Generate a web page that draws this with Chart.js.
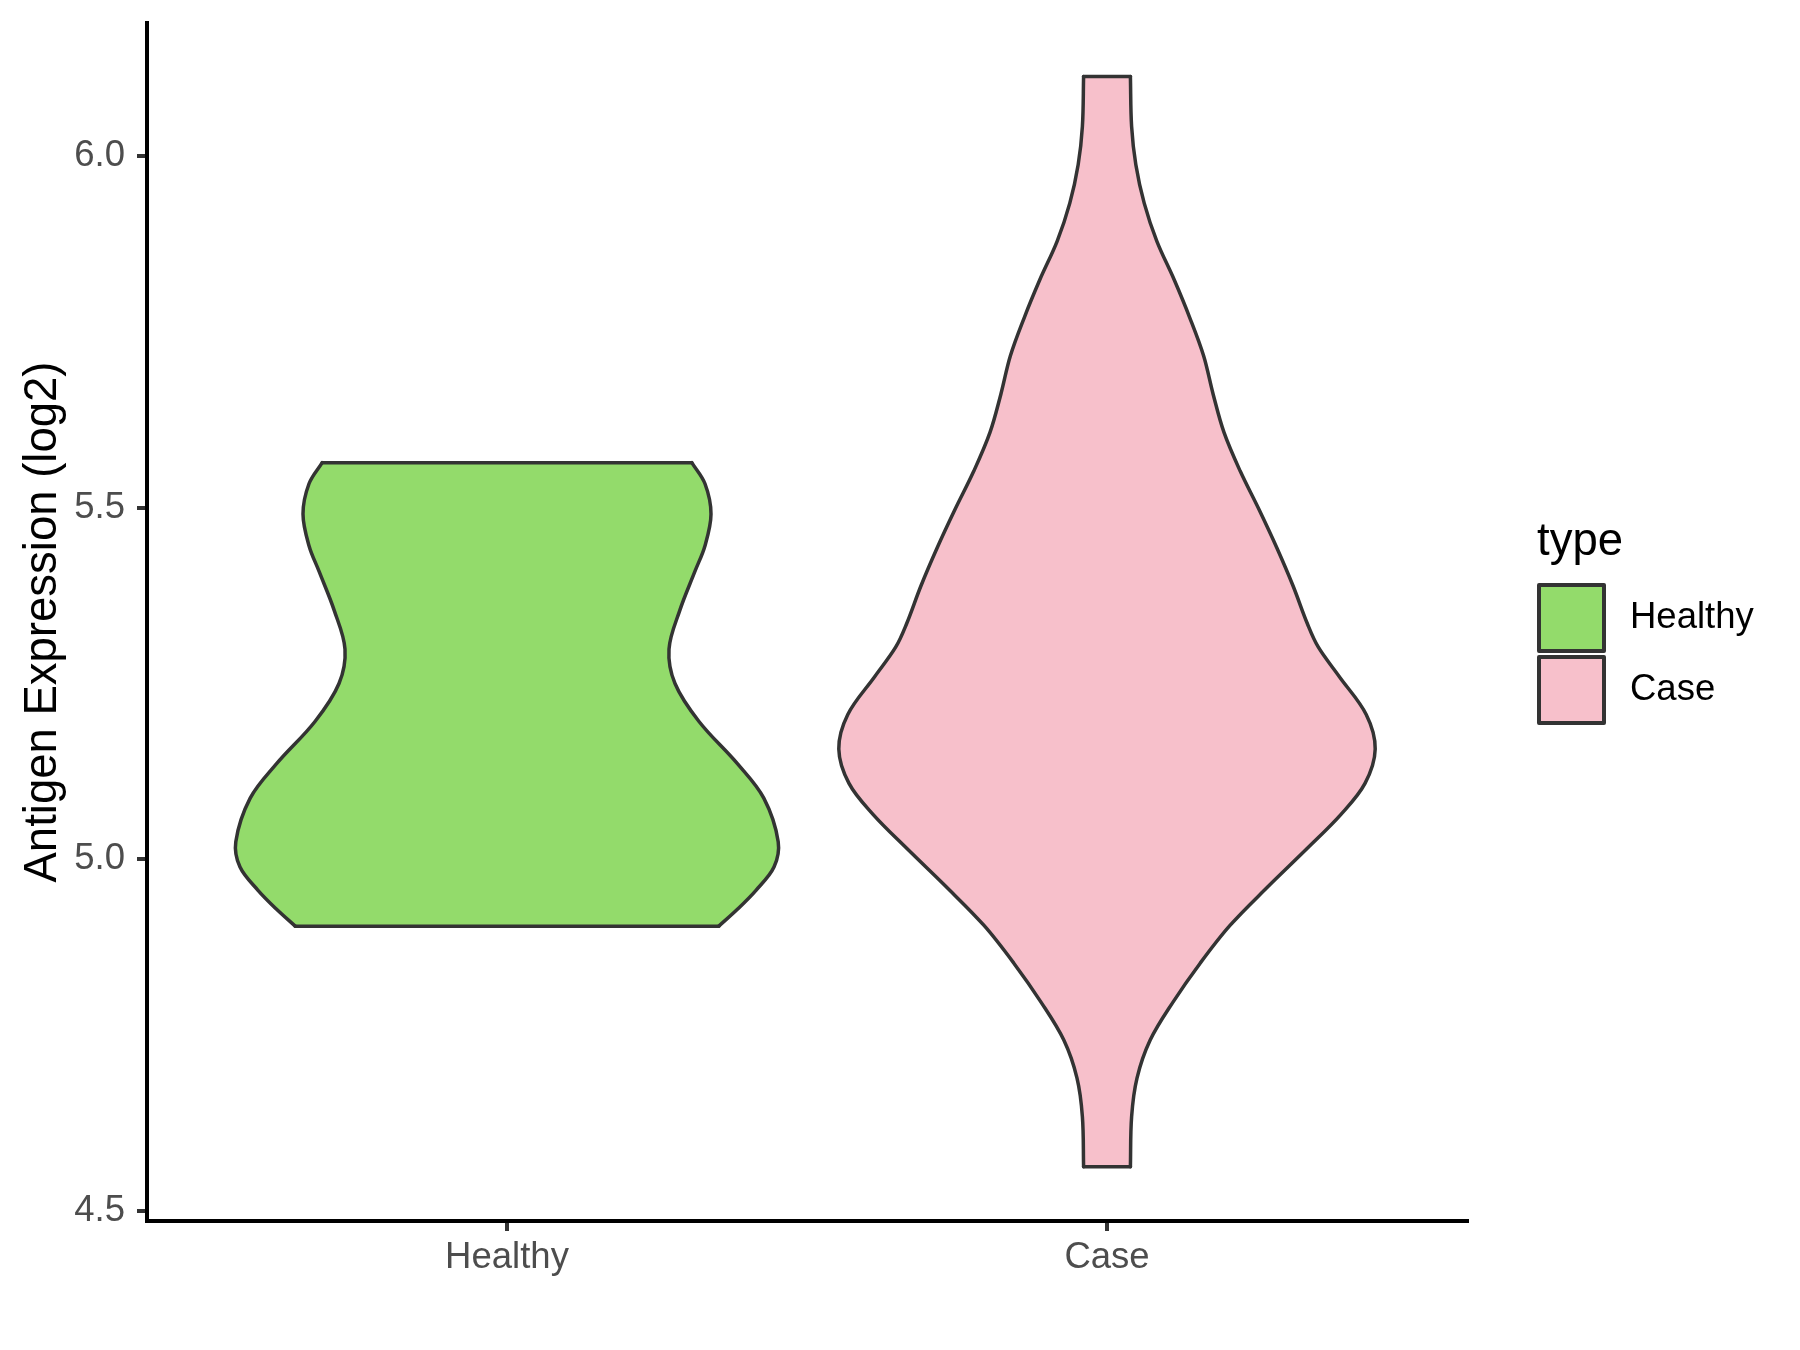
<!DOCTYPE html>
<html>
<head>
<meta charset="utf-8">
<script src="https://cdn.jsdelivr.net/npm/chart.js@4.4.1/dist/chart.umd.min.js"></script>
<style>
  html, body { margin: 0; padding: 0; background: #ffffff; }
  #wrap { width: 1800px; height: 1350px; position: relative; }
</style>
</head>
<body>
<div id="wrap"><canvas id="violinChart"></canvas></div>
<script>
// ---- data ----
const categories = ['Healthy', 'Case'];
const yTicks = [4.5, 5.0, 5.5, 6.0];

// Healthy violin: expression value and half width (in category units)
const healthyY = [4.905, 4.929, 4.956, 4.989, 5.025, 5.087, 5.136, 5.196, 5.250, 5.299, 5.354, 5.409, 5.446, 5.491, 5.534, 5.564];
const healthyHalfWidth = [0.353, 0.384, 0.415, 0.445, 0.452, 0.428, 0.384, 0.320, 0.280, 0.270, 0.288, 0.313, 0.330, 0.340, 0.330, 0.308];

// Case violin
const caseY = [4.563, 4.634, 4.689, 4.743, 4.797, 4.852, 4.906, 4.961, 5.015, 5.064, 5.108, 5.157, 5.206, 5.260, 5.302, 5.335, 5.389, 5.443, 5.498, 5.552, 5.607, 5.661, 5.716, 5.770, 5.824, 5.879, 5.933, 5.988, 6.042, 6.113];
const caseHalfWidth = [0.039, 0.041, 0.050, 0.072, 0.110, 0.155, 0.205, 0.268, 0.333, 0.390, 0.430, 0.447, 0.432, 0.387, 0.352, 0.334, 0.310, 0.283, 0.253, 0.222, 0.195, 0.177, 0.161, 0.138, 0.112, 0.083, 0.062, 0.048, 0.041, 0.039];

const fillColors = ['#93DB6B', '#F7C0CB'];
const outline = '#333333';
const fontFamily = '"Liberation Sans", Arial, sans-serif';

// build the datasets for one violin: two caps, left side, right side (filled to left side)
function violinSets(center, ys, ws, color, baseIndex) {
    const last = ys.length - 1;
    const line = {
        borderColor: outline,
        borderWidth: 3.5,
        borderCapStyle: 'round',
        borderJoinStyle: 'round',
        pointRadius: 0,
        pointHoverRadius: 0,
        fill: false
    };
    return [
        Object.assign({}, line, {
            label: categories[center - 1] + ' bottom',
            data: [{x: center - ws[0], y: ys[0]}, {x: center + ws[0], y: ys[0]}],
            tension: 0
        }),
        Object.assign({}, line, {
            label: categories[center - 1] + ' top',
            data: [{x: center - ws[last], y: ys[last]}, {x: center + ws[last], y: ys[last]}],
            tension: 0
        }),
        Object.assign({}, line, {
            label: categories[center - 1] + ' left',
            data: ys.map((y, i) => ({x: center - ws[i], y: y})),
            tension: 0.35
        }),
        Object.assign({}, line, {
            label: categories[center - 1],
            data: ys.map((y, i) => ({x: center + ws[i], y: y})),
            tension: 0.35,
            backgroundColor: color,
            fill: baseIndex + 2
        })
    ];
}

const datasets = [].concat(
    violinSets(1, healthyY, healthyHalfWidth, fillColors[0], 0),
    violinSets(2, caseY, caseHalfWidth, fillColors[1], 4)
);

// ================= legend on the right =================
const typeLegend = {
    id: 'typeLegend',
    afterDraw(chart) {
        const ctx = chart.ctx;
        const x0 = chart.chartArea.right + 72;
        ctx.save();
        ctx.fillStyle = '#000000';
        ctx.textBaseline = 'alphabetic';
        ctx.textAlign = 'left';
        ctx.font = '45.5px ' + fontFamily;
        ctx.fillText('type', x0 - 2, 555);

        ctx.font = '36.5px ' + fontFamily;
        ctx.textBaseline = 'middle';
        categories.forEach((cat, i) => {
            const top = 585 + i * 72;
            ctx.fillStyle = fillColors[i];
            ctx.fillRect(x0, top, 65, 66);
            ctx.strokeStyle = outline;
            ctx.lineWidth = 4;
            ctx.lineJoin = 'round';
            ctx.strokeRect(x0, top, 65, 66);
            ctx.fillStyle = '#000000';
            ctx.fillText(cat, x0 + 91, top + 33);
        });
        ctx.restore();
    }
};

const ctx = document.getElementById('violinChart').getContext('2d');
new Chart(ctx, {
    type: 'line',
    data: { datasets: datasets },
    options: {
        indexAxis: 'y',
        responsive: true,
        maintainAspectRatio: false,
        animation: false,
        events: [],
        layout: { padding: { left: 16, top: 23, right: 333, bottom: 0 } },
        plugins: {
            legend: { display: false },
            tooltip: { enabled: false }
        },
        scales: {
            x: {
                type: 'linear',
                min: 0.4,
                max: 2.6,
                afterBuildTicks: s => { s.ticks = categories.map((c, i) => ({ value: i + 1 })); },
                afterFit: s => { s.height = 129; s.paddingLeft = 0; s.paddingRight = 0; },
                grid: { drawOnChartArea: false, tickLength: 10, color: outline, lineWidth: 4 },
                border: { display: true, color: '#000000', width: 4 },
                ticks: {
                    color: '#4D4D4D',
                    font: { family: fontFamily, size: 36.5 },
                    padding: 5,
                    maxRotation: 0,
                    autoSkip: false,
                    callback: v => categories[Math.round(v) - 1]
                }
            },
            y: {
                type: 'linear',
                min: 4.4858,
                max: 6.1891,
                afterBuildTicks: s => { s.ticks = yTicks.map(v => ({ value: v })); },
                afterFit: s => { s.width = 131; s.paddingTop = 0; s.paddingBottom = 0; },
                grid: { drawOnChartArea: false, tickLength: 10, color: outline, lineWidth: 4 },
                border: { display: true, color: '#000000', width: 4 },
                ticks: {
                    color: '#4D4D4D',
                    font: { family: fontFamily, size: 36.5 },
                    padding: 12,
                    callback: v => v.toFixed(1)
                },
                title: {
                    display: true,
                    text: 'Antigen Expression (log2)',
                    color: '#000000',
                    font: { family: fontFamily, size: 45.5 },
                    padding: 0
                }
            }
        }
    },
    plugins: [typeLegend]
});
</script>
</body>
</html>
